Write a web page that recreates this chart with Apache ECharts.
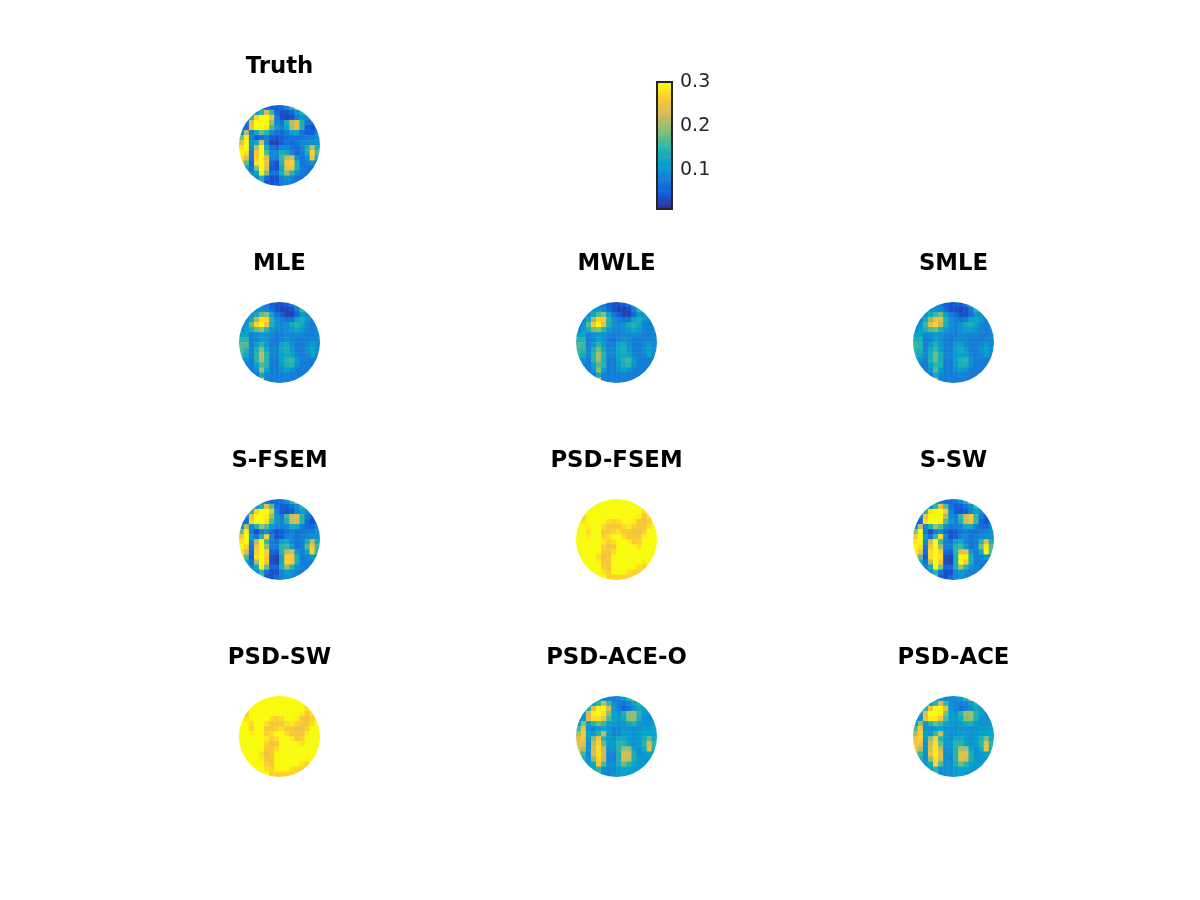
<!DOCTYPE html>
<html>
<head>
<meta charset="utf-8">
<script src="https://cdn.jsdelivr.net/npm/echarts@6/dist/echarts.min.js"></script>
<style>
  html, body { margin: 0; background: #fff; }
  #main { width: 1200px; height: 900px; }
</style>
</head>
<body>
<div id="main"></div>
<script>
const _ = null;

const truth = [
  [_,_,_,_,9,6,5,5,6,9,14,24,_,_,_,_],
  [_,_,9,10,15,23,16,6,4,4,6,10,14,10,_,_],
  [_,9,16,27,30,30,25,8,4,3,4,8,11,10,9,_],
  [_,7,24,30,30,30,20,9,7,14,22,24,14,7,7,_],
  [6,6,25,30,30,29,17,11,8,12,21,24,14,5,4,7],
  [9,22,8,13,18,15,9,7,6,8,12,12,7,5,5,8],
  [18,29,9,5,7,8,5,4,5,6,7,7,7,8,8,10],
  [24,30,10,13,24,9,3,3,5,7,6,7,9,9,10,10],
  [28,30,9,22,30,13,7,6,9,9,7,6,8,14,22,14],
  [30,28,8,26,30,17,9,10,14,13,9,6,8,14,27,17],
  [28,24,7,27,30,24,9,8,16,22,23,10,7,10,25,13],
  [26,18,6,28,30,25,6,4,15,26,27,14,7,8,10,8],
  [_,13,7,20,30,24,5,4,13,25,25,14,8,7,7,_],
  [_,8,9,12,29,19,7,7,14,20,15,10,8,7,7,_],
  [_,_,8,9,14,6,4,4,8,10,9,7,7,8,_,_],
  [_,_,_,_,14,4,4,5,8,9,8,8,_,_,_,_]
];
const mle = [
  [_,_,_,_,9,8,5,4,4,5,7,13,_,_,_,_],
  [_,_,10,10,10,9,6,4,3,3,4,8,16,9,_,_],
  [_,9,10,13,18,19,12,7,5,3,3,6,11,10,9,_],
  [_,9,13,21,28,27,15,10,8,7,7,12,14,11,9,_],
  [8,10,18,27,30,25,14,10,9,10,13,15,13,9,8,9],
  [9,11,14,18,20,15,11,9,9,10,11,13,11,9,8,9],
  [12,12,9,10,11,10,9,8,8,9,9,10,9,8,8,9],
  [15,15,8,9,11,10,8,7,9,10,9,8,8,8,9,9],
  [17,17,8,11,15,11,8,8,12,13,10,8,8,9,11,9],
  [17,15,9,14,19,13,9,9,13,14,11,8,8,10,12,10],
  [15,13,9,15,22,15,9,9,12,13,12,9,8,9,12,9],
  [13,10,8,15,21,15,8,8,12,15,16,11,8,8,8,8],
  [_,9,8,12,17,15,8,8,11,14,15,10,8,8,8,_],
  [_,8,8,10,20,12,8,8,10,12,10,8,8,8,8,_],
  [_,_,8,8,13,9,8,8,8,9,8,8,8,8,_,_],
  [_,_,_,_,25,9,8,8,8,8,8,8,_,_,_,_]
];
const mwle = [
  [_,_,_,_,9,8,5,4,4,5,7,13,_,_,_,_],
  [_,_,10,10,10,9,6,4,3,3,4,8,16,9,_,_],
  [_,9,10,13,17,19,12,7,5,3,3,6,11,10,9,_],
  [_,9,13,20,27,26,15,10,8,7,7,12,14,11,9,_],
  [8,10,17,26,30,24,14,10,9,10,13,15,13,9,8,9],
  [9,11,14,18,19,15,11,9,9,10,11,13,11,9,8,9],
  [12,12,9,10,11,10,9,8,8,9,9,10,9,8,8,9],
  [15,15,8,9,12,10,8,7,9,10,9,8,8,8,9,9],
  [17,16,8,11,15,11,8,8,12,13,10,8,8,9,11,9],
  [16,15,9,14,18,13,9,9,13,14,11,8,8,10,12,10],
  [15,13,9,15,21,15,9,9,12,13,12,9,8,9,12,9],
  [13,10,8,15,20,14,8,8,12,15,16,11,8,8,8,8],
  [_,9,8,12,17,15,8,8,11,14,15,10,8,8,8,_],
  [_,8,8,10,19,12,8,8,10,12,10,8,8,8,8,_],
  [_,_,8,8,13,9,8,8,8,9,8,8,8,8,_,_],
  [_,_,_,_,24,9,8,8,8,8,8,8,_,_,_,_]
];
const smle = [
  [_,_,_,_,9,8,5,4,5,5,7,13,_,_,_,_],
  [_,_,10,10,10,9,6,4,4,3,4,8,15,9,_,_],
  [_,9,10,13,16,18,12,8,6,4,4,7,11,10,9,_],
  [_,9,13,19,25,24,15,10,8,7,8,12,13,11,9,_],
  [8,10,16,24,27,22,14,10,9,10,13,14,12,9,8,9],
  [9,11,14,17,18,14,11,9,9,10,11,12,10,9,8,9],
  [12,12,9,10,11,10,9,8,8,9,9,9,9,8,8,9],
  [14,14,8,9,12,10,8,7,9,9,9,8,8,8,9,9],
  [16,15,8,11,14,11,8,8,11,12,9,8,8,9,11,9],
  [15,14,9,13,16,12,8,8,12,13,11,8,8,10,12,10],
  [14,13,9,14,18,14,9,9,11,12,11,9,8,9,11,9],
  [12,10,8,14,18,13,8,8,12,14,15,10,8,8,8,8],
  [_,9,8,12,15,14,8,8,11,14,14,10,8,8,8,_],
  [_,8,8,10,17,11,8,8,10,11,10,8,8,8,8,_],
  [_,_,8,8,13,9,8,8,8,9,8,8,8,8,_,_],
  [_,_,_,_,22,9,8,8,8,8,8,8,_,_,_,_]
];
const sFsem = [
  [_,_,_,_,10,7,6,6,7,9,15,25,_,_,_,_],
  [_,_,10,11,14,24,17,7,5,5,7,10,15,11,_,_],
  [_,9,15,27,30,30,25,9,5,4,5,9,12,10,9,_],
  [_,8,25,30,30,29,20,11,8,16,23,24,15,8,6,_],
  [6,6,27,30,30,28,17,11,9,14,22,23,15,6,4,7],
  [9,21,9,14,20,17,11,9,8,9,13,13,8,6,6,9],
  [18,29,8,4,8,10,6,4,5,7,8,7,7,8,8,10],
  [25,30,11,7,15,27,9,4,5,8,9,7,8,9,10,10],
  [28,30,9,22,30,16,8,7,12,13,9,7,8,14,22,13],
  [30,27,7,25,30,20,8,8,15,16,11,7,8,17,26,16],
  [28,24,6,27,30,27,6,5,15,22,23,11,8,12,27,16],
  [26,17,5,28,30,27,4,3,13,27,26,14,8,9,11,9],
  [_,13,7,21,30,26,4,3,13,27,26,14,8,8,8,_],
  [_,8,9,13,29,18,6,6,14,20,15,10,9,8,8,_],
  [_,_,9,10,15,7,4,4,9,11,10,8,8,8,_,_],
  [_,_,_,_,16,5,4,6,9,10,9,9,_,_,_,_]
];
const psdFsem = [
  [_,_,_,_,30,30,30,30,30,30,30,30,_,_,_,_],
  [_,_,30,30,30,30,30,30,30,30,30,30,30,30,_,_],
  [_,30,30,30,30,30,30,30,30,30,30,30,30,28,30,_],
  [_,27,30,30,30,30,30,30,30,30,30,30,29,26,28,_],
  [30,28,30,30,30,30,28,27,28,30,30,29,26,25,27,30],
  [30,30,29,30,30,28,26,26,26,28,29,27,26,26,28,30],
  [30,30,28,30,30,26,26,27,28,26,26,25,25,27,30,30],
  [30,30,29,30,30,27,28,30,30,28,26,26,26,29,30,30],
  [30,30,30,30,30,29,27,28,30,30,29,26,27,30,30,30],
  [30,30,30,30,30,27,25,26,30,30,30,30,28,30,30,30],
  [30,30,30,30,30,26,26,28,30,30,30,30,30,30,30,30],
  [30,30,30,30,28,25,26,30,30,30,30,30,30,30,30,30],
  [_,30,30,30,29,26,26,30,30,30,30,30,30,29,30,_],
  [_,30,30,30,30,27,26,30,30,30,30,30,28,27,30,_],
  [_,_,30,30,30,28,27,30,30,30,28,27,27,29,_,_],
  [_,_,_,_,30,30,27,27,27,27,27,29,_,_,_,_]
];
const sSw = [
  [_,_,_,_,10,7,6,6,7,9,15,26,_,_,_,_],
  [_,_,10,11,15,25,17,7,5,5,7,10,16,11,_,_],
  [_,9,15,28,30,30,26,9,5,4,5,9,12,10,9,_],
  [_,8,25,30,30,30,21,10,8,16,23,26,16,8,6,_],
  [6,6,28,30,30,29,17,11,9,14,23,25,16,6,4,7],
  [9,22,9,14,20,17,10,8,8,9,13,13,8,6,6,9],
  [19,30,8,4,8,10,6,4,5,7,8,7,7,8,8,10],
  [26,30,11,7,16,28,9,4,5,8,9,7,8,9,10,10],
  [29,30,9,23,30,16,8,7,12,13,9,7,8,15,24,14],
  [30,28,7,26,30,20,8,8,15,16,11,7,8,18,29,17],
  [29,25,6,28,30,27,6,5,15,24,25,11,8,13,30,17],
  [27,18,5,28,30,28,4,3,14,30,29,14,8,9,11,9],
  [_,13,7,22,30,26,4,3,14,30,27,14,8,8,8,_],
  [_,8,9,13,30,19,6,6,14,21,15,10,9,8,8,_],
  [_,_,9,10,15,7,4,4,9,11,10,8,8,8,_,_],
  [_,_,_,_,17,5,4,6,9,10,9,9,_,_,_,_]
];
const psdSw = [
  [_,_,_,_,30,30,30,30,30,30,30,30,_,_,_,_],
  [_,_,30,30,30,30,30,30,30,30,30,30,30,30,_,_],
  [_,30,30,30,30,30,30,30,30,30,30,30,30,28,30,_],
  [_,27,30,30,30,30,30,30,30,30,30,30,29,26,28,_],
  [30,28,30,30,30,30,28,27,28,30,30,29,26,25,27,30],
  [30,30,28,30,30,28,26,26,26,28,29,27,26,26,28,30],
  [30,30,27,30,30,26,26,27,28,26,26,25,25,27,30,30],
  [30,30,29,30,30,27,28,30,30,28,26,26,26,29,30,30],
  [30,30,30,30,30,29,27,28,30,30,29,26,27,30,30,30],
  [30,30,30,30,30,27,25,26,30,30,30,30,28,30,30,30],
  [30,30,30,30,30,26,26,28,30,30,30,30,30,30,30,30],
  [30,30,30,30,28,25,26,30,30,30,30,30,30,30,30,30],
  [_,30,30,30,29,26,26,30,30,30,30,30,30,29,30,_],
  [_,30,30,30,30,27,26,30,30,30,30,30,28,27,30,_],
  [_,_,30,30,30,28,27,30,30,30,28,27,27,29,_,_],
  [_,_,_,_,30,30,27,27,27,27,27,29,_,_,_,_]
];
const psdAceO = [
  [_,_,_,_,11,9,8,8,9,11,15,22,_,_,_,_],
  [_,_,11,12,15,22,16,10,8,7,9,12,15,12,_,_],
  [_,11,15,24,29,30,23,11,8,6,7,10,13,12,11,_],
  [_,11,23,29,30,28,19,12,10,14,19,20,15,11,11,_],
  [10,10,24,28,28,25,17,12,11,13,19,20,14,10,9,11],
  [11,19,11,15,18,16,12,11,10,11,13,14,11,10,10,11],
  [16,25,10,9,11,12,10,9,9,10,10,10,10,11,11,12],
  [20,26,12,11,15,22,11,9,9,11,11,10,11,12,12,12],
  [24,26,11,19,26,15,11,10,13,13,11,10,11,14,18,13],
  [25,24,10,22,27,18,11,11,15,15,12,10,11,15,23,15],
  [24,21,10,23,28,22,10,10,15,20,20,12,10,13,24,14],
  [22,16,9,24,28,23,9,9,14,23,23,14,10,11,12,11],
  [_,14,10,19,27,22,9,8,14,23,22,14,11,11,11,_],
  [_,11,11,13,26,17,10,10,14,18,15,12,11,11,11,_],
  [_,_,11,12,15,10,9,9,11,12,12,11,11,11,_,_],
  [_,_,_,_,16,9,9,10,11,12,11,11,_,_,_,_]
];
const psdAce = [
  [_,_,_,_,11,10,9,9,10,11,15,23,_,_,_,_],
  [_,_,11,12,15,23,16,10,9,8,9,12,15,12,_,_],
  [_,11,15,25,30,30,24,11,9,7,8,10,13,12,11,_],
  [_,11,24,30,30,29,19,12,10,15,20,21,15,11,11,_],
  [10,10,25,29,29,26,17,12,11,13,19,20,14,10,10,11],
  [11,20,11,15,18,16,12,11,10,11,13,14,11,10,10,11],
  [17,26,10,10,11,12,10,10,10,10,10,10,10,11,11,12],
  [21,27,12,11,16,23,11,10,10,11,11,10,11,12,12,12],
  [25,27,11,20,27,15,11,10,13,13,11,10,11,14,19,13],
  [26,25,10,23,28,18,11,11,15,15,12,10,11,15,24,15],
  [25,22,10,24,29,22,10,10,15,21,21,12,10,13,25,14],
  [23,16,10,25,29,24,10,10,15,24,24,14,10,11,12,11],
  [_,14,10,20,28,23,10,9,15,24,23,14,11,11,11,_],
  [_,11,11,13,27,17,10,10,14,18,15,12,11,11,11,_],
  [_,_,11,12,15,10,10,10,11,12,12,11,11,11,_,_],
  [_,_,_,_,17,10,10,10,11,12,11,11,_,_,_,_]
];

const discTitles = ['Truth', 'MLE', 'MWLE', 'SMLE', 'S-FSEM', 'PSD-FSEM', 'S-SW', 'PSD-SW', 'PSD-ACE-O', 'PSD-ACE'];
const discValues = [truth, mle, mwle, smle, sFsem, psdFsem, sSw, psdSw, psdAceO, psdAce];

const colorbarLevels = [
  1.5, 2, 2.5, 3, 3.5, 4, 4.5, 5, 5.5, 6, 6.5, 7, 7.5, 8, 8.5, 9, 9.5, 10, 10.5,
  11, 11.5, 12, 12.5, 13, 13.5, 14, 14.5, 15, 15.5, 16, 16.5, 17, 17.5, 18, 18.5,
  19, 19.5, 20, 20.5, 21, 21.5, 22, 22.5, 23, 23.5, 24, 24.5, 25, 25.5, 26, 26.5,
  27, 27.5, 28, 28.5, 29, 29.5, 30
];
const colorbarTicks = [0.1, 0.2, 0.3];
const colorMin = 0.0114;
const colorMax = 0.3;
const parula = ['#352a87', '#0f5cdd', '#1481d6', '#06a4ca', '#2eb7a4', '#87bf77', '#d1bb59', '#fec832', '#f9fb0e'];

// layout
const discCenters = [
  [279.5, 145.5],
  [279.5, 342.5], [616.5, 342.5], [953.5, 342.5],
  [279.5, 539.5], [616.5, 539.5], [953.5, 539.5],
  [279.5, 736.5], [616.5, 736.5], [953.5, 736.5]
];
const discRadius = 40.5;
const rasterIdx = truth.map((row, i) => String(i));

const chart = echarts.init(document.getElementById('main'));

const grids = [];
const xAxes = [];
const yAxes = [];
const series = [];
const titles = [];

discValues.forEach((rows, d) => {
  const [cx, cy] = discCenters[d];
  grids.push({ left: cx - discRadius, top: cy - discRadius, width: discRadius * 2, height: discRadius * 2 });
  xAxes.push({ type: 'category', gridIndex: d, data: rasterIdx, show: false });
  yAxes.push({ type: 'category', gridIndex: d, data: rasterIdx, inverse: true, show: false });
  const cells = [];
  rows.forEach((row, r) => {
    row.forEach((v, c) => {
      if (v !== null) cells.push([c, r, v / 100]);
    });
  });
  series.push({
    type: 'heatmap',
    name: discTitles[d],
    xAxisIndex: d,
    yAxisIndex: d,
    data: cells,
    progressive: 0,
    silent: true
  });
  titles.push({
    text: discTitles[d],
    left: cx,
    top: cy - 78.5,
    textAlign: 'center',
    textVerticalAlign: 'middle',
    padding: 0,
    textStyle: { fontFamily: 'DejaVu Sans', fontWeight: 'bold', fontSize: 22.8, color: '#000' }
  });
});

// colorbar: own grid, level cells on a hidden category axis, scale on a value axis
const cbIndex = discValues.length;
grids.push({ left: 657, top: 82, width: 15, height: 127, show: true, z: 10, borderColor: '#262626', borderWidth: 2, backgroundColor: 'transparent' });
xAxes.push({ type: 'category', gridIndex: cbIndex, data: ['0'], show: false });
yAxes.push({ type: 'category', gridIndex: cbIndex, data: colorbarLevels.map(String), show: false });
yAxes.push({
  type: 'value',
  gridIndex: cbIndex,
  position: 'right',
  min: colorMin,
  max: colorMax,
  axisLine: { show: false },
  splitLine: { show: false },
  axisTick: { show: true, inside: true, length: 3, lineStyle: { color: '#262626', width: 1 }, customValues: colorbarTicks },
  axisLabel: {
    show: true,
    margin: 8,
    customValues: colorbarTicks,
    formatter: v => v.toFixed(1),
    fontFamily: 'DejaVu Sans',
    fontSize: 19,
    color: '#262626'
  }
});
series.push({
  type: 'heatmap',
  name: 'colorbar',
  xAxisIndex: cbIndex,
  yAxisIndex: cbIndex,
  data: colorbarLevels.map((v, i) => [0, i, v / 100]),
  progressive: 0,
  silent: true
});

// white ring trims the square raster to a round disc
discCenters.forEach(([cx, cy]) => {
  series.push({
    type: 'pie',
    center: [cx, cy],
    radius: [discRadius, discRadius + 14],
    silent: true,
    z: 5,
    animation: false,
    label: { show: false },
    labelLine: { show: false },
    itemStyle: { color: '#fff' },
    data: [1]
  });
});

chart.setOption({
  backgroundColor: '#fff',
  animation: false,
  title: titles,
  grid: grids,
  xAxis: xAxes,
  yAxis: yAxes,
  tooltip: { show: false },
  visualMap: {
    show: false,
    min: colorMin,
    max: colorMax,
    dimension: 2,
    seriesIndex: discValues.map((v, i) => i).concat(cbIndex),
    inRange: { color: parula }
  },
  series: series
});
</script>
</body>
</html>
